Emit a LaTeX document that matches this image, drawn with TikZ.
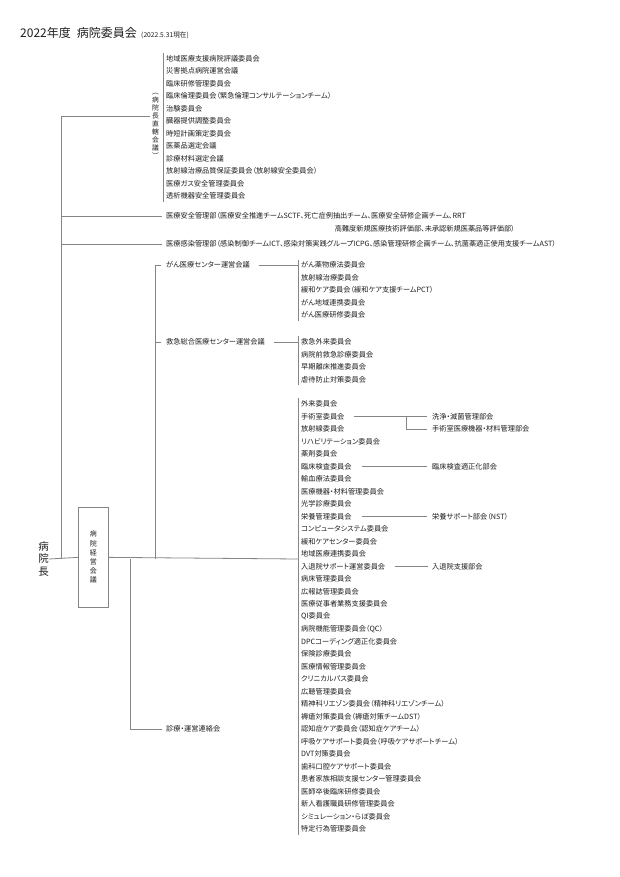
\documentclass[tikz,border=0pt]{standalone}
\usepackage{fontspec}
\newfontfamily\jp{Noto Sans CJK JP}[RawFeature={+palt}]
\definecolor{txt}{HTML}{1E1E1E}
\definecolor{lncol}{HTML}{858585}
\newcommand\itemf{\jp\fontsize{7.2}{8}\selectfont}
\begin{document}
\begin{tikzpicture}[x=1pt,y=-1pt,
  every node/.style={inner sep=0pt, text=txt},
  item/.style={anchor=west, font=\itemf},
  ln/.style={draw=lncol, line width=0.8pt}]
\useasboundingbox (0,0) rectangle (620,877);
\fill[white] (0,0) rectangle (620,877);

% title
\node[anchor=base west, font=\jp\fontsize{12}{14}\selectfont] (title) at (20,38) {2022年度\hspace{6pt}病院委員会};
\node[anchor=base west, font=\jp\fontsize{6.7}{8}\selectfont] (date) at ([xshift=4pt]title.base east) {(2022.5.31現在)};

% chief
\node[font=\jp\fontsize{10.5}{12.5}\selectfont, align=center] (chief) at (43.5,559) {病\\院\\長};

% management box
\node[draw=lncol, line width=0.8pt, fill=white, minimum width=29.3pt, minimum height=99.3pt,
      font=\jp\fontsize{7}{9.2}\selectfont, align=center] (box) at (93.35,557.35) {病\\院\\経\\営\\会\\議};

% bracket label
\node[font=\jp\fontsize{6.8}{8}\selectfont, align=center] (direct) at (155.5,126) {︵\\病\\院\\長\\直\\轄\\会\\議\\︶};

% direct list
\foreach \t [count=\i] in {地域医療支援病院評議委員会,災害拠点病院運営会議,臨床研修管理委員会,臨床倫理委員会（緊急倫理コンサルテーションチーム）,治験委員会,臓器提供調整委員会,時短計画策定委員会,医薬品選定会議,診療材料選定会議,放射線治療品質保証委員会（放射線安全委員会）,医療ガス安全管理委員会,透析機器安全管理委員会}
  \node[item] (d\i) at (166,46+12.5*\i) {\t};

\node[item] (safety) at (166,216) {医療安全管理部（医療安全推進チームSCTF、死亡症例抽出チーム、医療安全研修企画チーム、RRT};
\node[anchor=east, font=\itemf] (safety2) at (515,229) {高難度新規医療技術評価部、未承認新規医薬品等評価部）};
\node[item] (infect) at (166,244) {医療感染管理部（感染制御チームICT、感染対策実践グループICPG、感染管理研修企画チーム、抗菌薬適正使用支援チームAST）};

\node[item] (gan) at (166,265) {がん医療センター運営会議};
\node[item] (kyu) at (166,342) {救急総合医療センター運営会議};
\node[item] (shin) at (166,729) {診療・運営連絡会};

\foreach \t [count=\i] in {がん薬物療法委員会,放射線治療委員会,緩和ケア委員会（緩和ケア支援チームPCT）,がん地域連携委員会,がん医療研修委員会}
  \node[item] (g\i) at (301,252.5+12.5*\i) {\t};
\foreach \t [count=\i] in {救急外来委員会,病院前救急診療委員会,早期離床推進委員会,虐待防止対策委員会}
  \node[item] (k\i) at (301,329.5+12.5*\i) {\t};
\foreach \t [count=\i] in {外来委員会,手術室委員会,放射線委員会,リハビリテーション委員会,薬剤委員会,臨床検査委員会,輸血療法委員会,医療機器・材料管理委員会,光学診療委員会,栄養管理委員会,コンピュータシステム委員会,緩和ケアセンター委員会,地域医療連携委員会,入退院サポート運営委員会,病床管理委員会,広報誌管理委員会,医療従事者業務支援委員会,QI委員会,病院機能管理委員会（QC）,DPCコーディング適正化委員会,保険診療委員会,医療情報管理委員会,クリニカルパス委員会,広聴管理委員会,精神科リエゾン委員会（精神科リエゾンチーム）,褥瘡対策委員会（褥瘡対策チームDST）,認知症ケア委員会（認知症ケアチーム）,呼吸ケアサポート委員会（呼吸ケアサポートチーム）,DVT対策委員会,歯科口腔ケアサポート委員会,患者家族相談支援センター管理委員会,医師卒後臨床研修委員会,新人看護職員研修管理委員会,シミュレーション・らぼ委員会,特定行為管理委員会}
  \node[item] (t\i) at (301,391.5+12.5*\i) {\t};

% sub committees
\node[item] (s1) at (432,416.5) {洗浄・滅菌管理部会};
\node[item] (s2) at (432,429) {手術室医療機器・材料管理部会};
\node[item] (s3) at (432,466.5) {臨床検査適正化部会};
\node[item] (s4) at (432,516.5) {栄養サポート部会（NST）};
\node[item] (s5) at (432,566.5) {入退院支援部会};

% coordinates
\coordinate (trunkTop) at (61,116);
\coordinate (trunkBot) at (61,559);
\coordinate (midTop) at (155.7,265);
\coordinate (midBot) at (155.7,559);
\coordinate (lowTop) at (130,559);
\coordinate (lowBot) at (130,729);
\coordinate (busEnd) at (298,559);
\coordinate (br) at (406.7,416.5);

% main connectors
\draw[ln] (chief.east) -- (box.west);
\draw[ln] (box.east) -- (busEnd);
\draw[ln] (trunkTop) -- (trunkBot);
\draw[ln] (trunkTop) -- ([xshift=-1.5pt]trunkTop -| direct.west);
\draw[ln] (163,53) -- (163,202);
\draw[ln] (61,216) -- ([xshift=-4pt]safety.west);
\draw[ln] (61,244) -- ([xshift=-4pt]infect.west);
\draw[ln] (midTop) -- (midBot);
\draw[ln] (midTop) -- ([xshift=-5pt]gan.west);
\draw[ln] (155.7,342) -- ([xshift=-5pt]kyu.west);
\draw[ln] (lowTop) -- (lowBot) -- ([xshift=-4pt]shin.west);

% list buses
\draw[ln] ([xshift=9pt]gan.east) -- (298,265);
\draw[ln] (298,260) -- (298,321);
\draw[ln] ([xshift=9pt]kyu.east) -- (298,342);
\draw[ln] (298,336) -- (298,385);
\draw[ln] (298,398) -- (298,835);

% sub branches
\draw[ln] ([xshift=9pt]t2.east) -- ([xshift=-5pt]s1.west);
\draw[ln] (br) |- ([xshift=-5pt]s2.west);
\draw[ln] ([xshift=10pt]t6.east) -- ([xshift=-5pt]s3.west);
\draw[ln] ([xshift=10pt]t10.east) -- ([xshift=-5pt]s4.west);
\draw[ln] ([xshift=10pt]t14.east) -- ([xshift=-4pt]s5.west);
\end{tikzpicture}
\end{document}
